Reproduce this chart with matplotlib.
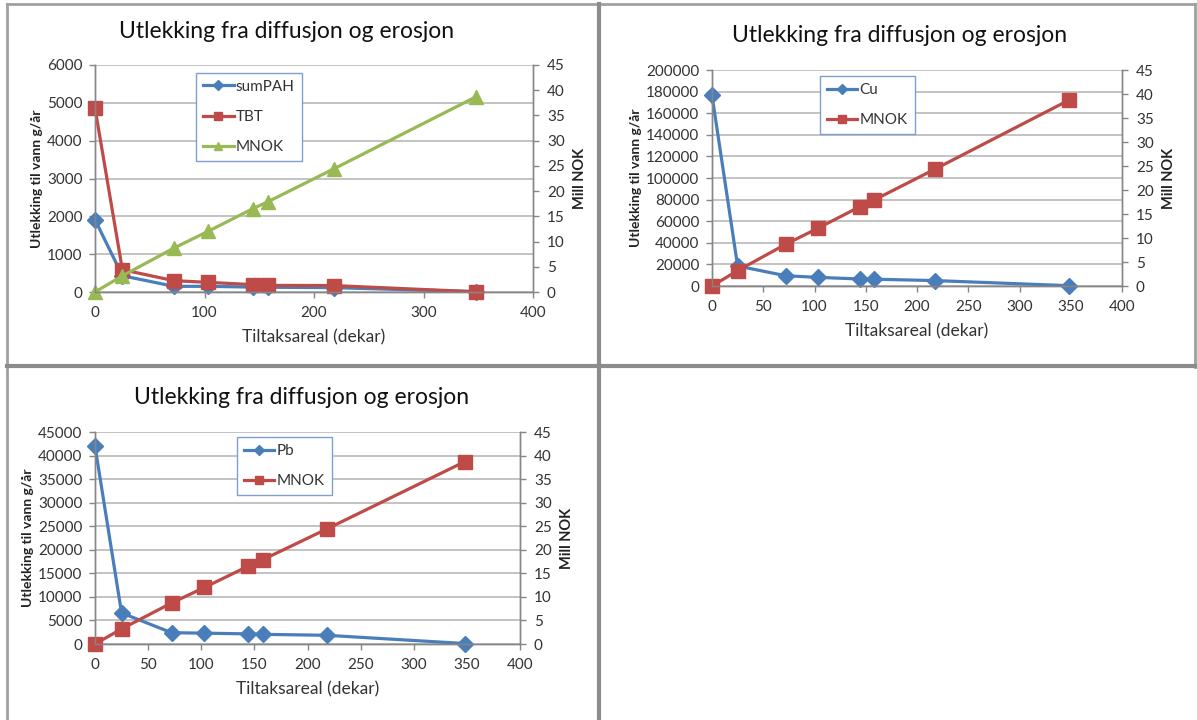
import matplotlib.pyplot as plt
from matplotlib.lines import Line2D

plt.rcParams['font.family'] = ['Lato', 'DejaVu Sans']

# data
areal = [0, 25, 72, 103, 144, 158, 218, 348]
mnok = [0, 3.2, 8.7, 12.0, 16.5, 17.9, 24.4, 38.7]
sumpah = [1910, 430, 150, 150, 130, 125, 115, 10]
tbt = [4860, 590, 300, 255, 195, 175, 170, 5]
cu = [176500, 18500, 9500, 8000, 6500, 6300, 5000, 300]
pb = [42000, 6600, 2400, 2300, 2150, 2050, 1850, 100]

title = 'Utlekking fra diffusjon og erosjon'
xlab = 'Tiltaksareal (dekar)'
ylab = 'Utlekking til vann g/år'
y2lab = 'Mill NOK'

blue = '#4a7ebb'
red = '#be4b48'
green = '#98b954'
axcol = '#868686'
txtcol = '#333333'

W, H = 1197, 720
fig = plt.figure(figsize=(W / 100, H / 100), dpi=100)


def px_axes(x0, x1, ytop, ybot):
    return fig.add_axes([x0 / W, (H - ybot) / H, (x1 - x0) / W, (ybot - ytop) / H])


def style(ax, ax2, ymax, ystep, xstep):
    ax.set_xlim(0, 400)
    ax.set_xticks(range(0, 401, xstep))
    ax.set_ylim(0, ymax)
    ax.set_yticks(range(0, ymax + 1, ystep))
    ax2.set_ylim(0, 45)
    ax2.set_yticks(range(0, 46, 5))
    ax.yaxis.grid(True, color='#b3b3b3', lw=1.1)
    ax.set_axisbelow(True)
    for a in (ax, ax2):
        a.spines['top'].set_visible(False)
        for s in ('left', 'right', 'bottom'):
            a.spines[s].set_color(axcol)
            a.spines[s].set_linewidth(1.0)
        a.tick_params(colors=axcol, labelcolor=txtcol, labelsize=11, length=4, width=1)
    ax.tick_params(axis='y', pad=5)
    ax.tick_params(axis='x', pad=6)
    ax2.tick_params(axis='y', pad=6)
    ax.set_xlabel(xlab, fontsize=12.5, color=txtcol, labelpad=7)
    ax.set_ylabel(ylab, fontsize=10, color='#222222', fontweight='bold', labelpad=3)
    ax2.set_ylabel(y2lab, fontsize=10.5, color='#222222', fontweight='bold', labelpad=6)


def legend(ax, ax2, anchor):
    h = ax.get_legend_handles_labels()[0] + ax2.get_legend_handles_labels()[0]
    l = ax.get_legend_handles_labels()[1] + ax2.get_legend_handles_labels()[1]
    leg = ax2.legend(h, l, loc='upper left', bbox_to_anchor=anchor, fontsize=11,
                     frameon=True, fancybox=False, edgecolor='#7f9fd0', framealpha=1,
                     labelspacing=1.05, handlelength=2.0, handletextpad=0.15,
                     borderpad=0.45, borderaxespad=0, markerscale=0.6)
    leg.get_frame().set_linewidth(1.0)
    for t in leg.get_texts():
        t.set_color(txtcol)


# chart 1
ax = px_axes(95, 533, 65, 292)
ax2 = ax.twinx()
ax.plot(areal, sumpah, color=blue, lw=2.3, marker='D', ms=8, label='sumPAH', clip_on=False)
ax.plot(areal, tbt, color=red, lw=2.3, marker='s', ms=9.5, label='TBT', clip_on=False)
ax2.plot(areal, mnok, color=green, lw=2.3, marker='^', ms=10, label='MNOK', clip_on=False)
style(ax, ax2, 6000, 1000, 100)
legend(ax, ax2, (0.231, 0.965))
fig.text(287 / W, 1 - 32 / H, title, fontsize=16.5, ha='center', va='center', color='#111111')

# chart 2
ax = px_axes(712, 1122, 70, 286)
ax2 = ax.twinx()
ax.plot(areal, cu, color=blue, lw=2.3, marker='D', ms=8, label='Cu', clip_on=False)
ax2.plot(areal, mnok, color=red, lw=2.3, marker='s', ms=9.5, label='MNOK', clip_on=False)
style(ax, ax2, 200000, 20000, 50)
legend(ax, ax2, (0.263, 0.972))
fig.text(900 / W, 1 - 35 / H, title, fontsize=16.5, ha='center', va='center', color='#111111')

# chart 3
ax = px_axes(95, 520, 432, 644)
ax2 = ax.twinx()
ax.plot(areal, pb, color=blue, lw=2.3, marker='D', ms=8, label='Pb', clip_on=False)
ax2.plot(areal, mnok, color=red, lw=2.3, marker='s', ms=9.5, label='MNOK', clip_on=False)
style(ax, ax2, 45000, 5000, 50)
legend(ax, ax2, (0.334, 0.976))
fig.text(302 / W, 1 - 397 / H, title, fontsize=16.5, ha='center', va='center', color='#111111')

# table borders around the charts
def hline(y, x0, x1, c='#a0a0a0', lw=2):
    fig.add_artist(Line2D([x0 / W, x1 / W], [1 - y / H, 1 - y / H], color=c, lw=lw))


def vline(x, y0, y1, c='#a0a0a0', lw=2):
    fig.add_artist(Line2D([x / W, x / W], [1 - y0 / H, 1 - y1 / H], color=c, lw=lw))


hline(4, 7, 1196)
vline(7, 4, 720)
vline(1195, 4, 367)
vline(599, 4, 720, c='#8c8c8c', lw=3)
hline(366, 7, 1196, c='#8c8c8c', lw=3)

fig.savefig('out.png', dpi=100)
